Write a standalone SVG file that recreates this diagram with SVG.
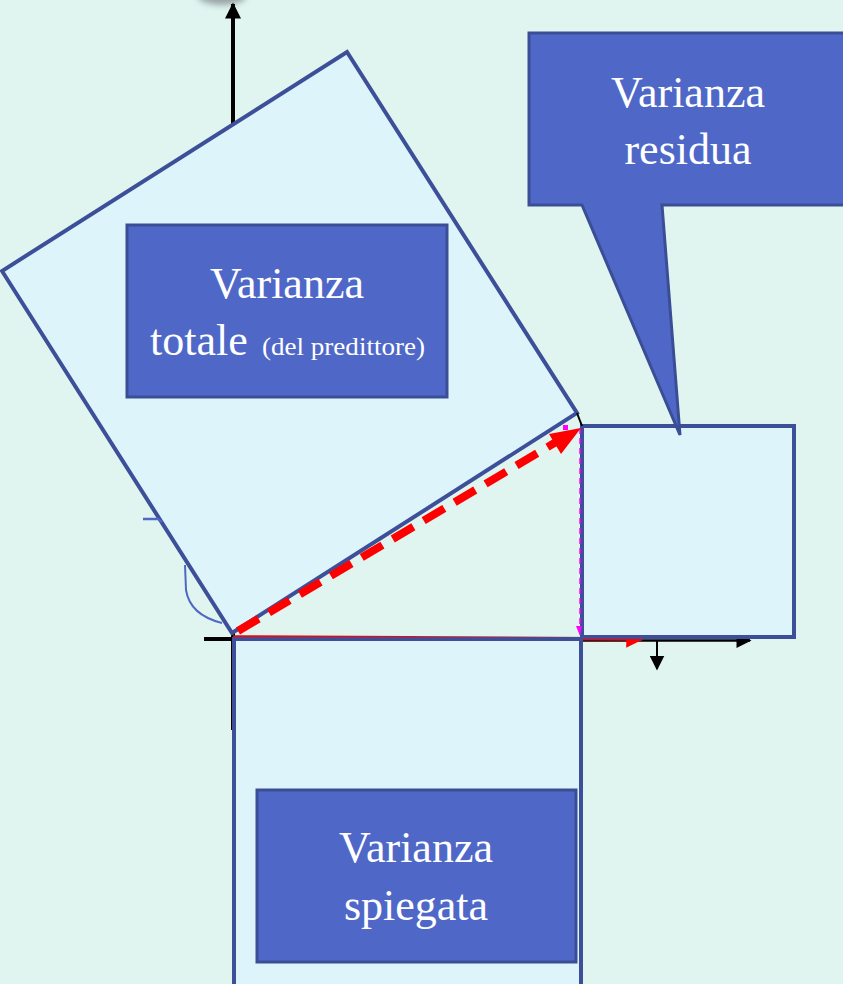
<svg xmlns="http://www.w3.org/2000/svg" width="843" height="984" viewBox="0 0 843 984">
<defs>
<style>
.sq{fill:#DDF4FB;stroke:#3D4F98;stroke-width:4}
.lbl{fill:#4F68C8;stroke:#3A4E96;stroke-width:3}
.t{font-family:"Liberation Serif","Times New Roman",serif;fill:#FFFFFF;font-size:44px;text-anchor:middle}
.ax{stroke:#000;fill:none}
</style>
<marker id="ah" viewBox="0 0 10 10" refX="9" refY="5" markerWidth="4.2" markerHeight="4" orient="auto" markerUnits="strokeWidth"><path d="M0,0 L10,5 L0,10 z" fill="#000"/></marker>
<marker id="ahx" viewBox="0 0 10 10" refX="9" refY="5" markerWidth="7" markerHeight="6" orient="auto" markerUnits="strokeWidth"><path d="M0,0 L10,5 L0,10 z" fill="#000"/></marker>
<marker id="ahs" viewBox="0 0 10 10" refX="9" refY="5" markerWidth="7.5" markerHeight="7.5" orient="auto" markerUnits="strokeWidth"><path d="M0,0 L10,5 L0,10 z" fill="#000"/></marker>
<marker id="ahr" viewBox="0 0 10 10" refX="9" refY="5" markerWidth="7" markerHeight="5" orient="auto" markerUnits="strokeWidth"><path d="M0,0 L10,5 L0,10 z" fill="#FF0000"/></marker>
<filter id="blur" x="-50%" y="-50%" width="200%" height="200%"><feGaussianBlur stdDeviation="3"/></filter>
</defs>
<rect x="0" y="0" width="843" height="984" fill="#E0F5EF"/>
<ellipse cx="222" cy="-4" rx="24" ry="9" fill="#7A8088" filter="url(#blur)" opacity="0.7"/>
<g id="connectors">
<line class="ax" x1="233" y1="730" x2="233" y2="4" stroke-width="4" marker-end="url(#ah)"/>
<line x1="204" y1="639" x2="233" y2="639" stroke="#000" stroke-width="4"/>
<line class="ax" x1="233" y1="640.5" x2="750" y2="640.5" stroke-width="2.5" marker-end="url(#ahx)"/>
<line x1="233" y1="637" x2="642" y2="639" stroke="#FF0000" stroke-width="3.5" marker-end="url(#ahr)"/>
<line x1="657" y1="641" x2="657" y2="669" stroke="#000" stroke-width="2" marker-end="url(#ahs)"/>
</g>
<g id="totale">
<polygon class="sq" points="232,633 577,413 347,52 2,271"/>
</g>
<g id="residua-square">
<rect class="sq" x="582" y="426" width="212" height="211"/>
</g>
<g id="spiegata">
<rect class="sq" x="234" y="639" width="347" height="360"/>
</g>
<g id="angle">
<path d="M185,565 L186,590 Q190,615 222,623" fill="none" stroke="#4F68C8" stroke-width="2"/>
<path d="M143,519 L158,519 L162,522" fill="none" stroke="#4F68C8" stroke-width="2.5"/>
</g>
<g id="vectors">
<line x1="577" y1="413" x2="582" y2="426" stroke="#000" stroke-width="2"/>
<line x1="580" y1="428" x2="580" y2="630" stroke="#FF00FF" stroke-width="1.5" stroke-dasharray="6 4"/>
<polygon points="576,626 582,626 580,636" fill="#FF00FF"/>
<rect x="563" y="425" width="5" height="5" fill="#FF00FF"/>
<line x1="238" y1="631" x2="556" y2="442" stroke="#FF0000" stroke-width="8" stroke-dasharray="24 12"/>
<polygon points="581,428 549,434 561,454" fill="#FF0000"/>
</g>
<g id="label-totale">
<rect class="lbl" x="127" y="225" width="320" height="172"/>
<text class="t" x="287" y="298">Varianza</text>
<text class="t" x="150" y="355" style="text-anchor:start">totale</text>
<text class="t" x="262" y="355" style="text-anchor:start;font-size:25px" textLength="163" lengthAdjust="spacingAndGlyphs">(del predittore)</text>
</g>
<g id="label-residua">
<path class="lbl" d="M529,33 L850,33 L850,205 L662,205 L680,435 L582,205 L529,205 Z"/>
<text class="t" x="688" y="107">Varianza</text>
<text class="t" x="688" y="164">residua</text>
</g>
<g id="label-spiegata">
<rect class="lbl" x="257" y="790" width="319" height="172"/>
<text class="t" x="416" y="862">Varianza</text>
<text class="t" x="416" y="920">spiegata</text>
</g>
</svg>
